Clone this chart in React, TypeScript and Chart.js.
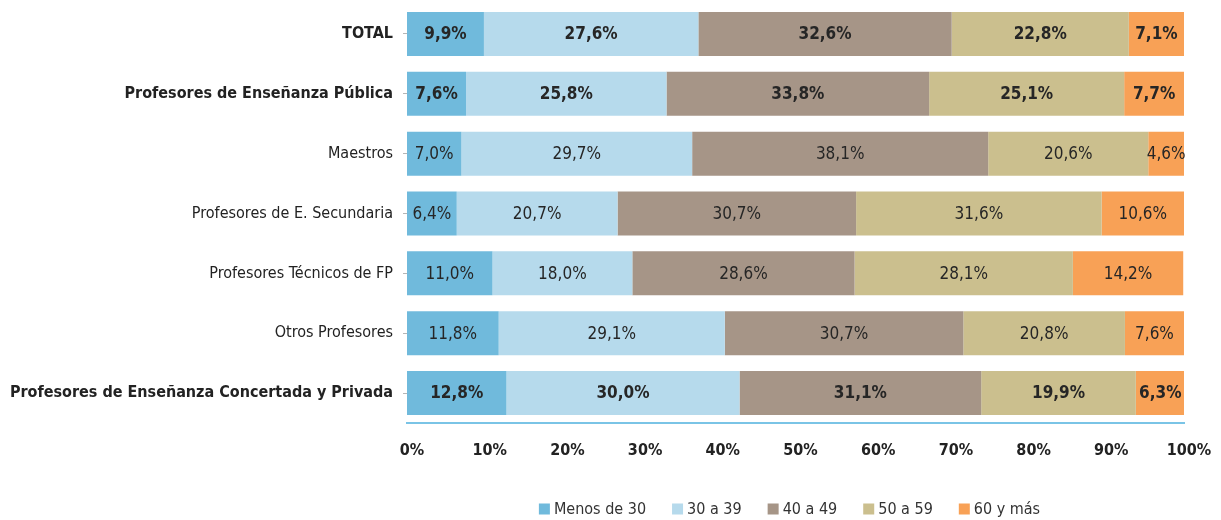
import React, { useEffect, useRef } from 'react';
import { Chart, registerables } from 'chart.js';

Chart.register(...registerables);

const FONT = "'Liberation Sans Narrow', 'DejaVu Sans Condensed', 'Roboto', sans-serif";

const categories = [
  'TOTAL',
  'Profesores de Enseñanza Pública',
  'Maestros',
  'Profesores de E. Secundaria',
  'Profesores Técnicos de FP',
  'Otros Profesores',
  'Profesores de Enseñanza Concertada y Privada',
];
const boldRows = [true, true, false, false, false, false, true];

const seriesNames = ['Menos de 30', '30 a 39', '40 a 49', '50 a 59', '60 y más'];
const menos30 = [9.9, 7.6, 7.0, 6.4, 11.0, 11.8, 12.8];
const de30a39 = [27.6, 25.8, 29.7, 20.7, 18.0, 29.1, 30.0];
const de40a49 = [32.6, 33.8, 38.1, 30.7, 28.6, 30.7, 31.1];
const de50a59 = [22.8, 25.1, 20.6, 31.6, 28.1, 20.8, 19.9];
const mas60 = [7.1, 7.7, 4.6, 10.6, 14.2, 7.6, 6.3];
const seriesColors = ['#70badc', '#b6daec', '#a69587', '#cbbf8e', '#f8a156'];

const xTicks = [0, 10, 20, 30, 40, 50, 60, 70, 80, 90, 100];

const fmt = (v: number) => v.toFixed(1).replace('.', ',') + '%';

const valueLabels = {
  id: 'valueLabels',
  afterDatasetsDraw(chart: any) {
    const ctx = chart.ctx;
    chart.data.datasets.forEach((ds: any, di: number) => {
      const meta = chart.getDatasetMeta(di);
      meta.data.forEach((el: any, i: number) => {
        const v = ds.data[i];
        const { x, y, base } = el.getProps(['x', 'y', 'base'], true);
        ctx.save();
        ctx.font = `${boldRows[i] ? 'bold ' : ''}17px ${FONT}`;
        ctx.fillStyle = '#262626';
        ctx.textAlign = 'center';
        ctx.textBaseline = 'middle';
        ctx.fillText(fmt(v), (x + base) / 2, y + 1);
        ctx.restore();
      });
    });
  },
};

const customLegend = {
  id: 'customLegend',
  afterDraw(chart: any) {
    const ctx = chart.ctx;
    const box = 11;
    const gap = 4;
    const spacing = 26;
    ctx.save();
    ctx.font = `16px ${FONT}`;
    const items = chart.data.datasets.map((ds: any) => ({
      text: ds.label,
      color: ds.backgroundColor,
      w: box + gap + ctx.measureText(ds.label).width,
    }));
    const total =
      items.reduce((s: number, it: any) => s + it.w, 0) + spacing * (items.length - 1);
    let x = (chart.chartArea.left + chart.chartArea.right) / 2 - 6 - total / 2;
    const y = chart.height - 11;
    ctx.textAlign = 'left';
    ctx.textBaseline = 'middle';
    items.forEach((it: any) => {
      ctx.fillStyle = it.color;
      ctx.fillRect(x, y - box / 2, box, box);
      ctx.fillStyle = '#333';
      ctx.fillText(it.text, x + box + gap, y + 1);
      x += it.w + spacing;
    });
    ctx.restore();
  },
};

export default function App() {
  const ref = useRef<HTMLCanvasElement>(null);
  useEffect(() => {
    if (!ref.current) return;
    const allSeries = [menos30, de30a39, de40a49, de50a59, mas60];
    const chart = new Chart(ref.current, {
      type: 'bar',
      data: {
        labels: categories,
        datasets: allSeries.map((d, i) => ({
          label: seriesNames[i],
          data: d,
          backgroundColor: seriesColors[i],
          borderWidth: 0,
          barPercentage: 0.735,
          categoryPercentage: 1,
        })),
      },
      plugins: [valueLabels, customLegend],
      options: {
        indexAxis: 'y',
        responsive: false,
        animation: false,
        layout: { padding: { top: 4, right: 37, left: 0, bottom: 0 } },
        scales: {
          x: {
            stacked: true,
            min: 0,
            max: 100,
            afterBuildTicks: (scale: any) => {
              scale.ticks = xTicks.map((v) => ({ value: v }));
            },
            afterFit: (scale: any) => {
              scale.height = 97;
              scale.paddingLeft = 0;
              scale.paddingRight = 0;
            },
            grid: { display: false, drawTicks: false },
            border: { display: true, color: '#7ac4e6', width: 2 },
            ticks: {
              callback: (v: any) => v + '%',
              font: { family: FONT, size: 16, weight: 'bold' },
              color: '#222',
              padding: 18,
              labelOffset: 5,
              maxRotation: 0,
            },
          },
          y: {
            stacked: true,
            afterFit: (scale: any) => {
              scale.width = 407;
              scale.paddingTop = 0;
              scale.paddingBottom = 0;
            },
            grid: {
              display: true,
              drawOnChartArea: false,
              drawTicks: true,
              tickLength: 4,
              offset: false,
              color: '#b5b5b5',
            },
            border: { display: false },
            ticks: {
              padding: 10,
              color: '#222',
              font: (ctx: any) => ({
                family: FONT,
                size: 16,
                weight: boldRows[ctx.index] ? 'bold' : 'normal',
              }),
            },
          },
        },
        plugins: {
          tooltip: { enabled: false },
          legend: { display: false },
        },
      },
    });
    return () => chart.destroy();
  }, []);
  return (
    <div style={{ position: 'absolute', left: 0, top: 0, width: 1221, height: 520 }}>
      <canvas ref={ref} width={1221} height={520} style={{ display: 'block' }} />
    </div>
  );
}
